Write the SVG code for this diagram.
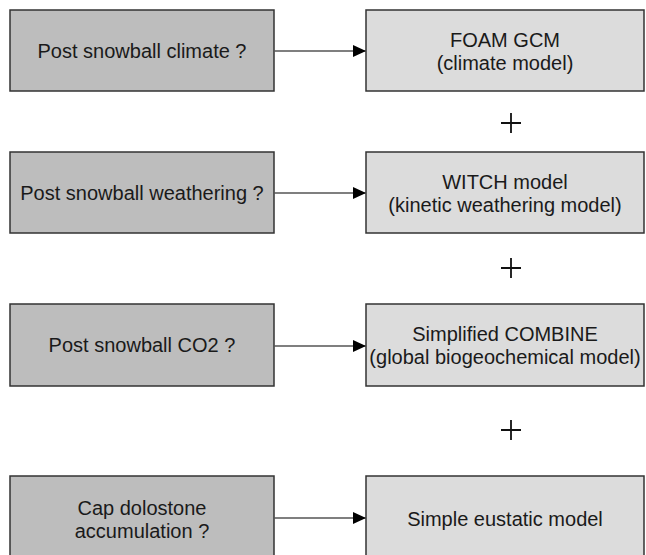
<svg xmlns="http://www.w3.org/2000/svg" width="646" height="555" viewBox="0 0 646 555">
<defs>
<style>
.q{fill:#bdbdbd;stroke:#333;stroke-width:1.5}
.m{fill:#dcdcdc;stroke:#333;stroke-width:1.5}
.t{font-family:"Liberation Sans",Arial,sans-serif;font-size:20px;fill:#1a1a1a;text-anchor:middle}
.c{stroke:#555;stroke-width:1.5;fill:none}
.p{stroke:#111;stroke-width:1.8;fill:none}
</style>
<marker id="ah" markerWidth="13" markerHeight="12" refX="13" refY="6" orient="auto" markerUnits="userSpaceOnUse">
<path d="M0,0 L13,6 L0,12 Z" fill="#000"/>
</marker>
</defs>
<rect width="646" height="555" fill="#fff"/>
<g id="q1"><rect class="q" x="10" y="10" width="264" height="81"/><text class="t" x="142" y="58">Post snowball climate ?</text></g>
<g id="m1"><rect class="m" x="366" y="10" width="278" height="81"/><text class="t" x="505" y="47">FOAM GCM</text><text class="t" x="505" y="70">(climate model)</text></g>
<g id="q2"><rect class="q" x="10" y="152" width="264" height="81"/><text class="t" x="142" y="200">Post snowball weathering ?</text></g>
<g id="m2"><rect class="m" x="366" y="152" width="278" height="81"/><text class="t" x="505" y="189">WITCH model</text><text class="t" x="505" y="212">(kinetic weathering model)</text></g>
<g id="q3"><rect class="q" x="10" y="304" width="264" height="82"/><text class="t" x="142" y="352">Post snowball CO2 ?</text></g>
<g id="m3"><rect class="m" x="366" y="304" width="278" height="82"/><text class="t" x="505" y="341">Simplified COMBINE</text><text class="t" x="505" y="364">(global biogeochemical model)</text></g>
<g id="q4"><rect class="q" x="10" y="476" width="264" height="84"/><text class="t" x="142" y="515">Cap dolostone</text><text class="t" x="142" y="538">accumulation ?</text></g>
<g id="m4"><rect class="m" x="366" y="476" width="278" height="84"/><text class="t" x="505" y="526">Simple eustatic model</text></g>
<g id="connectors">
<line class="c" x1="274" y1="51" x2="366" y2="51" marker-end="url(#ah)"/>
<line class="c" x1="274" y1="193" x2="366" y2="193" marker-end="url(#ah)"/>
<line class="c" x1="274" y1="346" x2="366" y2="346" marker-end="url(#ah)"/>
<line class="c" x1="274" y1="518" x2="366" y2="518" marker-end="url(#ah)"/>
</g>
<g id="plus1"><path class="p" d="M501,123 H521 M511,113 V133"/></g>
<g id="plus2"><path class="p" d="M501,268 H521 M511,258 V278"/></g>
<g id="plus3"><path class="p" d="M501,430 H521 M511,420 V440"/></g>
</svg>
